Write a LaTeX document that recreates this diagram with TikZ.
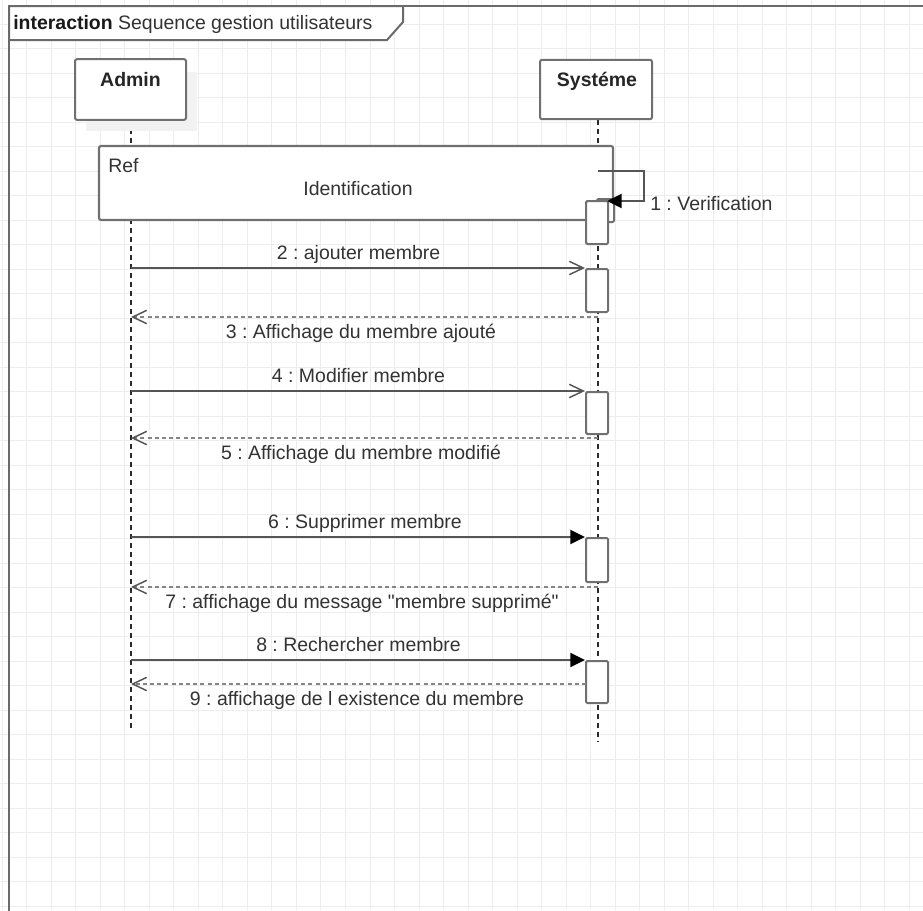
\documentclass[tikz,border=0pt]{standalone}
\usepackage{fontspec}
\setmainfont{Liberation Sans}[Ligatures=TeXOff]
\usetikzlibrary{arrows.meta}
\definecolor{gridc}{HTML}{EDEDED}
\definecolor{framec}{HTML}{6A6A6A}
\definecolor{boxc}{HTML}{707070}
\definecolor{msgc}{HTML}{555555}
\definecolor{retc}{HTML}{858585}
\definecolor{lifec}{HTML}{2A2A2A}
\definecolor{txtc}{HTML}{333333}
\definecolor{shadc}{HTML}{F2F2F2}
\newcommand\lblfont{\fontsize{14.6}{17}\selectfont}
\frenchspacing
\begin{document}
\begin{tikzpicture}[x=0.75pt,y=-0.75pt,
  headbox/.style={draw=boxc,line width=1.5pt,fill=white,rounded corners=1.5pt,inner sep=0pt},
  refbox/.style={draw=boxc,line width=1.6pt,fill=white,rounded corners=1.5pt,inner sep=0pt},
  actbox/.style={draw=boxc,line width=1.5pt,fill=white,rounded corners=1pt,inner sep=0pt,minimum width=16.5pt},
  msgline/.style={draw=msgc,line width=1.5pt},
  openhead/.style={-{Straight Barb[length=10.5pt,width=10pt,line width=1.1pt,color=msgc]}},
  fullhead/.style={-{Triangle[length=11pt,width=10.5pt,color=black]}},
  retline/.style={draw=retc,line width=1.5pt,dash pattern=on 3pt off 2.4pt},
  lifeline/.style={draw=lifec,line width=1.1pt,dash pattern=on 3.75pt off 3pt},
  lbl/.style={font=\lblfont,text=txtc,anchor=base,inner sep=0pt},
  hlbl/.style={font=\lblfont\bfseries,text=black!85,anchor=base,inner sep=0pt}]
\useasboundingbox (0,0) rectangle (923,910);
\fill[white] (0,0) rectangle (923,910);
% grid
\foreach \i in {0,...,37} \draw[gridc,line width=0.75pt] ({2.2+24.52*\i},0) -- ({2.2+24.52*\i},910);
\foreach \j in {1,...,37} \draw[gridc,line width=0.75pt] (0,{-0.5+24.5*\j}) -- (923,{-0.5+24.5*\j});
% frame
\coordinate (fbl) at (9,915);
\coordinate (ftl) at (9,6);
\coordinate (ftr) at (930,6);
\draw[framec,line width=1.6pt] (fbl) -- (ftl) -- (ftr);
\draw[framec,line width=1.5pt,fill=white,line join=miter] (9,6) -- (403,6) -- (403,22) -- (387,40) -- (9,40) -- cycle;
\node[anchor=base west,inner sep=0pt,font=\lblfont,text=txtc] (title) at (13,29)
  {\textbf{\color{black!90}interaction} Sequence gestion utilisateurs};
% lifelines
\coordinate (al) at (131,120);
\coordinate (ale) at (131,732);
\coordinate (sl) at (598,120);
\coordinate (sle) at (598,742);
\draw[lifeline] (al) -- (ale);
\draw[lifeline] (sl) -- (sle);
% header boxes
\fill[shadc] (86,72) rectangle (197,131);
\node[headbox,minimum width=83.25pt,minimum height=45.5pt] (admin) at (130.5,89.5) {};
\node[hlbl] (admint) at (130.5,86) {Admin};
\node[headbox,minimum width=84pt,minimum height=44.5pt] (sys) at (596,89.5) {};
\node[hlbl] (syst) at (597,86) {Systéme};
% ref box
\node[refbox,minimum width=385.5pt,minimum height=55.5pt] (ref) at (356,183) {};
\node[lbl,anchor=base west] (reft) at (108,172) {Ref};
\node[lbl] (refn) at (358,195) {Identification};
% activations
\node[actbox,minimum width=12.75pt,minimum height=17.25pt,anchor=north west] (act0) at (596,198) {};
\node[actbox,minimum height=32.25pt,anchor=north] (act1) at (597,200) {};
\node[actbox,minimum height=32.25pt,anchor=north] (act2) at (597,268) {};
\node[actbox,minimum height=31.5pt,anchor=north] (act3) at (597,391) {};
\node[actbox,minimum height=33pt,anchor=north] (act4) at (597,537) {};
\node[actbox,minimum height=31.5pt,anchor=north] (act5) at (597,660) {};
% self message 1
\coordinate (m1a) at (598,171);
\coordinate (m1b) at (644,171);
\coordinate (m1c) at (644,201);
\coordinate (m1d) at (607,201);
\draw[msgline,fullhead] (m1a) -- (m1b) -- (m1c) -- (m1d);
\node[lbl,anchor=base west] (l1) at (650,210) {1 : Verification};
% message 2
\draw[msgline,openhead] (al |- act2.north west) -- (act2.north west);
\node[lbl] (l2) at (358.5,259) {2 : ajouter membre};
\coordinate (r3s) at (598,317);
\coordinate (r3e) at (131,317);
\draw[retline,openhead] (r3s) -- (r3e);
\node[lbl] (l3) at (361,338) {3 : Affichage du membre ajouté};
% message 4
\draw[msgline,openhead] (al |- act3.north west) -- (act3.north west);
\node[lbl] (l4) at (358.5,382) {4 : Modifier membre};
\coordinate (r5s) at (598,438);
\coordinate (r5e) at (131,438);
\draw[retline,openhead] (r5s) -- (r5e);
\node[lbl] (l5) at (361,459) {5 : Affichage du membre modifié};
% message 6
\draw[msgline,fullhead] (al |- act4.north west) -- (act4.north west);
\node[lbl] (l6) at (365,528) {6 : Supprimer membre};
\coordinate (r7s) at (598,587);
\coordinate (r7e) at (131,587);
\draw[retline,openhead] (r7s) -- (r7e);
\node[lbl] (l7) at (362,608) {7 : affichage du message "membre supprimé"};
% message 8
\draw[msgline,fullhead] (al |- act5.north west) -- (act5.north west);
\node[lbl] (l8) at (358.5,651) {8 : Rechercher membre};
\coordinate (r9s) at (586,684);
\coordinate (r9e) at (131,684);
\draw[retline,openhead] (r9s) -- (r9e);
\node[lbl] (l9) at (357,705) {9 : affichage de l existence du membre};
\end{tikzpicture}
\end{document}
